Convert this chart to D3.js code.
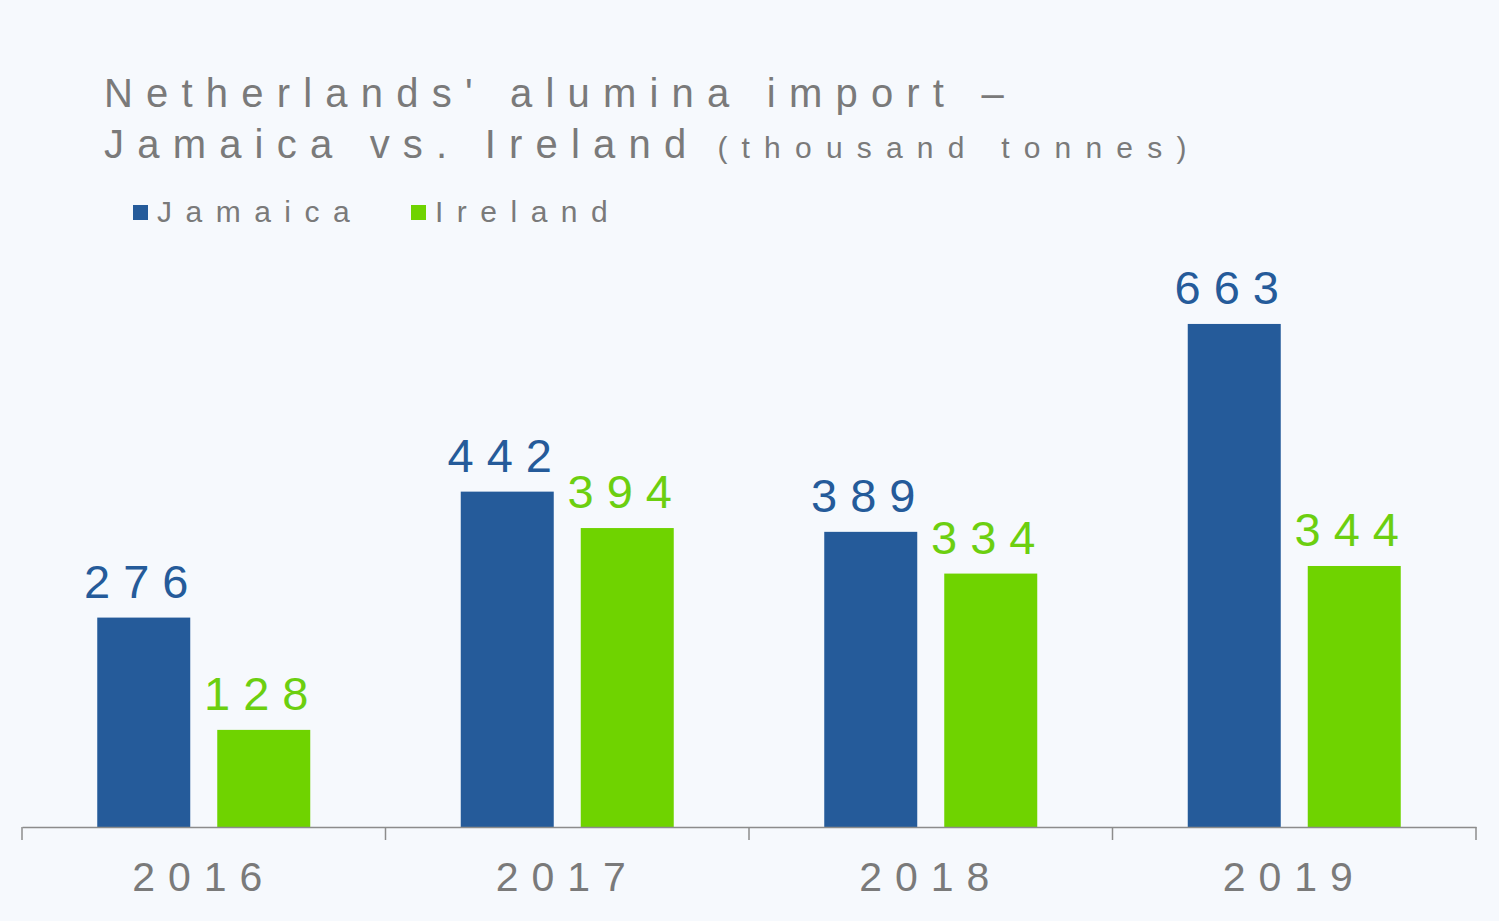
<!DOCTYPE html>
<html>
<head>
<meta charset="utf-8">
<script src="https://cdn.jsdelivr.net/npm/d3@7"></script>
<style>
  body { margin: 0; background: #f6f9fd; }
  text { font-family: "Liberation Sans", Arial, sans-serif; }
</style>
</head>
<body>
<div id="chart"></div>
<script>
// data
const years = ["2016", "2017", "2018", "2019"];
const series = ["Jamaica", "Ireland"];
const jamaica = [276, 442, 389, 663];
const ireland = [128, 394, 334, 344];
const colors = {Jamaica: "#255b9a", Ireland: "#6fd300"};
const labelColors = {Jamaica: "#255b9a", Ireland: "#6ccf10"};

const W = 1499, H = 921;
const margin = {top: 0, right: 23, bottom: 94, left: 22};

const svg = d3.select("#chart").append("svg")
    .attr("width", W)
    .attr("height", H);

svg.append("rect").attr("width", W).attr("height", H).attr("fill", "#f6f9fd");

// title
const title = svg.append("text")
    .attr("x", 104)
    .attr("fill", "#7a7a7a")
    .style("letter-spacing", "13.2px");
title.append("tspan").attr("x", 104).attr("y", 107).style("font-size", "40px")
    .text("Netherlands' alumina import \u2013");
title.append("tspan").attr("x", 104).attr("y", 158).style("font-size", "40px")
    .style("letter-spacing", "13.2px")
    .text("Jamaica vs. Ireland");
title.append("tspan").attr("dx", 18).style("font-size", "30px").style("letter-spacing", "14.2px")
    .text("(thousand tonnes)");

// legend
const legendX = [133, 411];
const legend = svg.append("g").selectAll("g")
  .data(series)
  .join("g")
    .attr("transform", (d, i) => `translate(${legendX[i]},205)`);
legend.append("rect")
    .attr("width", 15).attr("height", 15)
    .attr("fill", d => colors[d]);
legend.append("text")
    .attr("x", 24).attr("y", 17)
    .attr("fill", "#7a7a7a")
    .style("font-size", "30px")
    .style("letter-spacing", "13.5px")
    .text(d => d);

// scales
const x0 = d3.scaleBand()
    .domain(years)
    .range([margin.left, W - margin.right]);

const x1 = d3.scaleBand()
    .domain(series)
    .range([0, 213])
    .paddingInner(0.225);

const y = d3.scaleLinear()
    .domain([0, 800])
    .range([H - margin.bottom, H - margin.bottom - 607]);

const rows = years.map((yr, i) => ({year: yr, values: [
  {key: "Jamaica", value: jamaica[i]},
  {key: "Ireland", value: ireland[i]}
]}));

const groups = svg.append("g").selectAll("g")
  .data(rows)
  .join("g")
    .attr("transform", d => `translate(${x0(d.year) + x0.bandwidth() / 2 - 106.5},0)`);

groups.selectAll("rect")
  .data(d => d.values)
  .join("rect")
    .attr("x", d => x1(d.key))
    .attr("y", d => y(d.value))
    .attr("width", x1.bandwidth())
    .attr("height", d => y(0) - y(d.value))
    .attr("fill", d => colors[d.key]);

groups.selectAll("text")
  .data(d => d.values)
  .join("text")
    .attr("x", d => x1(d.key) + x1.bandwidth() / 2 - 1)
    .attr("y", d => y(d.value) - 20)
    .attr("text-anchor", "middle")
    .attr("fill", d => labelColors[d.key])
    .style("font-size", "47px")
    .style("letter-spacing", "13px")
    .text(d => d.value);

// x axis
const axis = svg.append("g")
    .attr("transform", `translate(0,${H - margin.bottom})`)
    .call(d3.axisBottom(x0).tickSize(0).tickPadding(35));
axis.select(".domain").attr("stroke", "#8c8c8c").attr("stroke-width", 1.5);
axis.selectAll(".tick text")
    .attr("fill", "#7a7a7a")
    .style("font-size", "41px")
    .style("letter-spacing", "13px")
    .style("font-family", "Liberation Sans, Arial, sans-serif")
    .attr("dx", "0px");

// tick separators between categories
const edges = years.map(d => x0(d)).concat([x0.range()[1]]);
axis.selectAll(".sep")
  .data(edges)
  .join("line")
    .attr("class", "sep")
    .attr("x1", d => d).attr("x2", d => d)
    .attr("y1", 0).attr("y2", 13)
    .attr("stroke", "#8c8c8c")
    .attr("stroke-width", 1.5);
</script>
</body>
</html>
